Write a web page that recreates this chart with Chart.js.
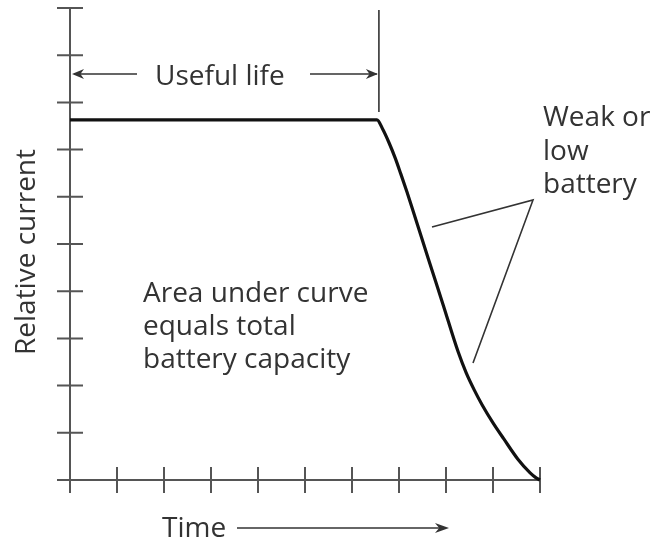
<!DOCTYPE html>
<html>
<head>
<meta charset="utf-8">
<script src="https://cdn.jsdelivr.net/npm/chart.js@4.4.1/dist/chart.umd.min.js"></script>
<style>
    html, body { margin: 0; padding: 0; background: #fff; }
    #wrap { width: 653px; height: 541px; position: relative; }
</style>
</head>
<body>
<div id="wrap"><canvas id="battery_graph"></canvas></div>
<script>
// discharge curve: time vs relative current (arbitrary units)
const timeValues = [0, 6.53, 6.66, 6.79, 6.92, 7.04, 7.17, 7.30, 7.62, 7.94, 8.26, 8.43, 8.60, 8.77, 9.00, 9.23, 9.53, 9.79, 9.91, 10];
const currentValues = [7.63, 7.63, 7.42, 7.14, 6.82, 6.48, 6.10, 5.70, 4.70, 3.71, 2.71, 2.27, 1.91, 1.59, 1.21, 0.87, 0.44, 0.15, 0.05, 0];
const xTicks = [0, 1, 2, 3, 4, 5, 6, 7, 8, 9, 10];
const yTicks = [0, 1, 2, 3, 4, 5, 6, 7, 8, 9, 10];
const endOfLife = 6.53;

const FONT = '28px "Open Sans", "Noto Sans", sans-serif';
const AXIS_COLOR = '#555';
const TEXT_COLOR = '#333';

function arrowHead(ctx, x, y, dir, len, half) {
    // dir: 1 = points right, -1 = points left
    ctx.beginPath();
    ctx.moveTo(x, y);
    ctx.lineTo(x - dir * len, y - half);
    ctx.lineTo(x - dir * len * 0.7, y);
    ctx.lineTo(x - dir * len, y + half);
    ctx.closePath();
    ctx.fill();
}

const axesPlugin = {
    id: 'axesPlugin',
    beforeDatasetsDraw(chart) {
        const ctx = chart.ctx;
        const xs = chart.scales.x;
        const ys = chart.scales.y;
        const x0 = xs.getPixelForValue(0);
        const y0 = ys.getPixelForValue(0);
        ctx.save();
        ctx.strokeStyle = AXIS_COLOR;
        ctx.lineWidth = 2;
        // axis lines
        ctx.beginPath();
        ctx.moveTo(x0, ys.getPixelForValue(10));
        ctx.lineTo(x0, y0 + 13);
        ctx.moveTo(x0 - 13, y0);
        ctx.lineTo(xs.getPixelForValue(10), y0);
        ctx.stroke();
        // tick marks crossing the axes
        ctx.beginPath();
        yTicks.forEach(function (v) {
            if (v === 0) return;
            const py = ys.getPixelForValue(v);
            ctx.moveTo(x0 - 13, py);
            ctx.lineTo(x0 + 13, py);
        });
        xTicks.forEach(function (v) {
            if (v === 0) return;
            const px = xs.getPixelForValue(v);
            ctx.moveTo(px, y0 - 13);
            ctx.lineTo(px, y0 + 13);
        });
        ctx.stroke();
        ctx.restore();
    },
    afterDraw(chart) {
        const ctx = chart.ctx;
        const xs = chart.scales.x;
        const x0 = xs.getPixelForValue(0);
        const xEnd = xs.getPixelForValue(endOfLife);
        ctx.save();
        ctx.fillStyle = TEXT_COLOR;
        ctx.strokeStyle = '#333';
        ctx.font = FONT;
        ctx.textBaseline = 'alphabetic';
        ctx.textAlign = 'left';

        // useful life marker
        ctx.lineWidth = 1.6;
        ctx.beginPath();
        ctx.moveTo(xEnd + 2, 10);
        ctx.lineTo(xEnd + 2, 112);
        ctx.moveTo(x0 + 4, 74);
        ctx.lineTo(137, 74);
        ctx.moveTo(310, 74);
        ctx.lineTo(xEnd, 74);
        ctx.stroke();
        arrowHead(ctx, x0 + 2, 74, -1, 12, 5);
        arrowHead(ctx, xEnd + 1, 74, 1, 12, 5);
        ctx.fillText('Useful life', 155, 85);

        // area note
        ctx.fillText('Area under curve', 143, 302);
        ctx.fillText('equals total', 143, 335);
        ctx.fillText('battery capacity', 143, 368);

        // weak battery callout
        ctx.fillText('Weak or', 543, 126);
        ctx.fillText('low', 543, 160);
        ctx.fillText('battery', 543, 193);
        ctx.lineWidth = 1.6;
        ctx.beginPath();
        ctx.moveTo(432, 227);
        ctx.lineTo(533, 200);
        ctx.lineTo(473, 363);
        ctx.stroke();

        // time label with arrow
        ctx.fillText('Time', 162, 537);
        ctx.beginPath();
        ctx.moveTo(237, 528);
        ctx.lineTo(440, 528);
        ctx.stroke();
        arrowHead(ctx, 449, 528, 1, 14, 5);

        // y axis title
        ctx.translate(35, 252);
        ctx.rotate(-Math.PI / 2);
        ctx.textAlign = 'center';
        ctx.fillText('Relative current', 0, 0);
        ctx.restore();
    }
};

new Chart(document.getElementById('battery_graph'), {
    type: 'line',
    data: {
        datasets: [{
            label: 'Relative current',
            data: timeValues.map(function (t, i) {
                return { x: t, y: currentValues[i] };
            }),
            borderColor: '#111',
            borderWidth: 3.2,
            pointRadius: 0,
            fill: false,
            cubicInterpolationMode: 'monotone',
            clip: 6
        }]
    },
    options: {
        responsive: true,
        maintainAspectRatio: false,
        animation: false,
        layout: {
            padding: { left: 70, top: 8, right: 113, bottom: 61 }
        },
        plugins: {
            legend: { display: false },
            tooltip: { enabled: false }
        },
        scales: {
            x: { type: 'linear', min: 0, max: 10, display: false },
            y: { type: 'linear', min: 0, max: 10, display: false }
        }
    },
    plugins: [axesPlugin]
});
</script>
</body>
</html>
